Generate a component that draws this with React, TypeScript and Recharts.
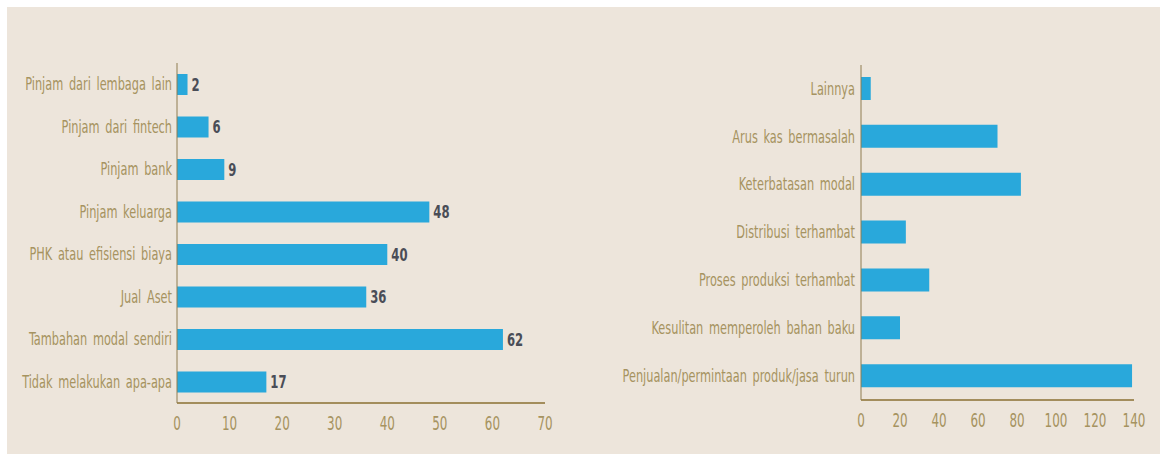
import { BarChart, Bar, XAxis, YAxis, LabelList } from 'recharts'

const leftCategories = [
  'Pinjam dari lembaga lain',
  'Pinjam dari fintech',
  'Pinjam bank',
  'Pinjam keluarga',
  'PHK atau efisiensi biaya',
  'Jual Aset',
  'Tambahan modal sendiri',
  'Tidak melakukan apa-apa',
]
const leftValues = [2, 6, 9, 48, 40, 36, 62, 17]
const leftTicks = [0, 10, 20, 30, 40, 50, 60, 70]

const rightCategories = [
  'Lainnya',
  'Arus kas bermasalah',
  'Keterbatasan modal',
  'Distribusi terhambat',
  'Proses produksi terhambat',
  'Kesulitan memperoleh bahan baku',
  'Penjualan/permintaan produk/jasa turun',
]
const rightValues = [5, 70, 82, 23, 35, 20, 139]
const rightTicks = [0, 20, 40, 60, 80, 100, 120, 140]

const FONT = "'DejaVu Sans Condensed', 'Liberation Sans', sans-serif"
const TAN = '#a69360'
const AXIS = '#a38d5c'
const BAR = '#29a8db'

const leftData = leftCategories.map((name, i) => ({ name, value: leftValues[i] }))
const rightData = rightCategories.map((name, i) => ({ name, value: rightValues[i] }))

// the source font is a tall, narrow one, so squeeze text horizontally
function Narrow({ x, y, anchor, size, sx, fill, bold, baseline, children }: any) {
  return (
    <text transform={`translate(${x},${y}) scale(${sx},1)`} textAnchor={anchor}
      dominantBaseline={baseline} fill={fill} fontSize={size} fontFamily={FONT}
      fontWeight={bold ? 'bold' : 'normal'} style={{ wordSpacing: 3 }}>
      {children}
    </text>
  )
}

function YTick({ x, y, payload }: any) {
  return <Narrow x={x} y={y} anchor="end" size={18} sx={0.7} fill={TAN} baseline="central">{payload.value}</Narrow>
}

function XTick({ x, y, payload }: any) {
  return <Narrow x={x} y={y + 25} anchor="middle" size={19} sx={0.7} fill={TAN}>{payload.value}</Narrow>
}

function ValueLabel({ x, y, width, height, value }: any) {
  return (
    <Narrow x={x + width + 4} y={y + height / 2} anchor="start" size={18} sx={0.72}
      fill="#4a4d57" bold baseline="central">{value}</Narrow>
  )
}

export default function App() {
  return (
    <div style={{ position: 'fixed', left: 0, top: 0, width: 1160, height: 454, background: '#fff' }}>
      <div style={{ position: 'absolute', left: 7, top: 7, width: 1153, height: 447, background: '#ede5db' }} />
      <div style={{ position: 'absolute', left: 0, top: 0 }}>
        <BarChart width={560} height={454} layout="vertical" data={leftData}
          margin={{ top: 63, right: 15, bottom: 21, left: 0 }} barSize={21}>
          <XAxis type="number" domain={[0, 70]} ticks={leftTicks} height={30}
            axisLine={{ stroke: AXIS, strokeWidth: 2 }} tickLine={false} tickSize={0} tick={<XTick />} />
          <YAxis type="category" dataKey="name" width={177}
            axisLine={{ stroke: '#8f7c50', strokeWidth: 1 }} tickLine={false} tickSize={0} tickMargin={5} tick={<YTick />} />
          <Bar dataKey="value" fill={BAR} isAnimationActive={false}>
            <LabelList dataKey="value" content={<ValueLabel />} />
          </Bar>
        </BarChart>
      </div>
      <div style={{ position: 'absolute', left: 580, top: 0 }}>
        <BarChart width={580} height={454} layout="vertical" data={rightData}
          margin={{ top: 65, right: 26, bottom: 24, left: 0 }} barSize={23}>
          <XAxis type="number" domain={[0, 140]} ticks={rightTicks} height={30}
            axisLine={{ stroke: AXIS, strokeWidth: 2 }} tickLine={false} tickSize={0} tick={<XTick />} />
          <YAxis type="category" dataKey="name" width={281}
            axisLine={{ stroke: '#8f7c50', strokeWidth: 1 }} tickLine={false} tickSize={0} tickMargin={6} tick={<YTick />} />
          <Bar dataKey="value" fill={BAR} isAnimationActive={false} />
        </BarChart>
      </div>
    </div>
  )
}
